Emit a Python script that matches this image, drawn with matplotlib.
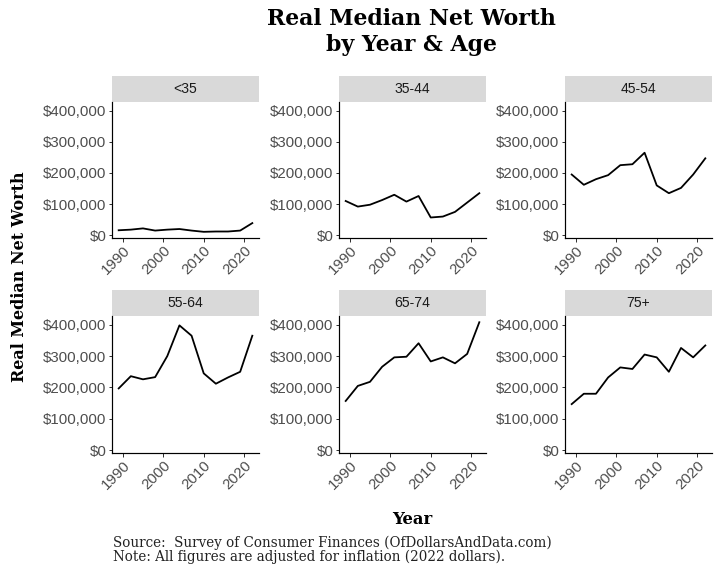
import numpy as np
import matplotlib
matplotlib.use('Agg')
import matplotlib.pyplot as plt
from matplotlib.ticker import FuncFormatter

# SCF survey years
years = [1989, 1992, 1995, 1998, 2001, 2004, 2007, 2010, 2013, 2016, 2019, 2022]

age_groups = ['<35', '35-44', '45-54', '55-64', '65-74', '75+']

# real median net worth, 2022 dollars
nw_under35 = [16000, 18000, 22000, 15000, 18000, 20000, 15000, 11000, 12000, 12000, 15000, 39000]
nw_35_44 = [110000, 92000, 98000, 113000, 130000, 108000, 126000, 57000, 60000, 75000, 105000, 135000]
nw_45_54 = [195000, 162000, 180000, 193000, 225000, 228000, 265000, 160000, 135000, 152000, 195000, 247000]
nw_55_64 = [197000, 236000, 226000, 233000, 300000, 398000, 365000, 245000, 212000, 232000, 250000, 365000]
nw_65_74 = [157000, 205000, 218000, 266000, 296000, 298000, 341000, 283000, 296000, 277000, 307000, 408000]
nw_75plus = [147000, 180000, 180000, 232000, 264000, 259000, 305000, 296000, 250000, 326000, 296000, 334000]

series = [nw_under35, nw_35_44, nw_45_54, nw_55_64, nw_65_74, nw_75plus]

W, H = 720, 576
fig = plt.figure(figsize=(10, 8), dpi=72)

def px_axes(x0, y_top, x1, y_bot):
    return fig.add_axes([x0 / W, 1 - y_bot / H, (x1 - x0) / W, (y_bot - y_top) / H])

col_x = [112, 339, 565]
pan_w = 147
rows = [(76, 102, 238), (290, 316, 453)]

# shared y range with ggplot-like padding
all_vals = np.concatenate([np.array(s) for s in series])
lo, hi = all_vals.min(), all_vals.max()
pad = 0.05 * (hi - lo)
ylim = (lo - pad, hi + pad)
xpad = 0.05 * (years[-1] - years[0])

money = FuncFormatter(lambda v, p: '${:,.0f}'.format(v))
tick_font = 'Liberation Sans'

for i, (grp, vals) in enumerate(zip(age_groups, series)):
    r, c = divmod(i, 3)
    s_top, a_top, a_bot = rows[r]
    x0 = col_x[c]
    # strip
    sax = px_axes(x0, s_top, x0 + pan_w, a_top)
    sax.set_facecolor('#d9d9d9')
    sax.set_xticks([])
    sax.set_yticks([])
    for sp in sax.spines.values():
        sp.set_visible(False)
    sax.text(0.5, 0.5, grp, ha='center', va='center', fontsize=14,
             color='#1a1a1a', family=tick_font, transform=sax.transAxes)

    ax = px_axes(x0, a_top, x0 + pan_w, a_bot)
    ax.plot(years, vals, color='black', lw=1.8)
    ax.set_ylim(*ylim)
    ax.set_xlim(years[0] - xpad, years[-1] + xpad)
    ax.set_yticks([0, 100000, 200000, 300000, 400000])
    ax.set_xticks([1990, 2000, 2010, 2020])
    ax.yaxis.set_major_formatter(money)
    for sp in ['top', 'right']:
        ax.spines[sp].set_visible(False)
    for sp in ['left', 'bottom']:
        ax.spines[sp].set_linewidth(1.2)
    ax.tick_params(length=3.5, width=1, color='#333333', labelsize=15,
                   labelcolor='#4d4d4d', pad=2)
    for lab in ax.get_xticklabels():
        lab.set_rotation(45)
        lab.set_ha('right')
        lab.set_rotation_mode('anchor')
        lab.set_family(tick_font)
    for lab in ax.get_yticklabels():
        lab.set_family(tick_font)

serif = 'DejaVu Serif'
fig.text(411 / W, 1 - 19 / H, 'Real Median Net Worth', ha='center', va='center',
         fontsize=22, fontweight='bold', family=serif)
fig.text(411 / W, 1 - 45 / H, 'by Year & Age', ha='center', va='center',
         fontsize=22, fontweight='bold', family=serif)
fig.text(20 / W, 1 - 277 / H, 'Real Median Net Worth', ha='center', va='center',
         rotation=90, fontsize=16, fontweight='bold', family=serif)
fig.text(412 / W, 1 - 519 / H, 'Year', ha='center', va='center',
         fontsize=16.5, fontweight='bold', family=serif)
fig.text(113 / W, 1 - 543 / H, 'Source:  Survey of Consumer Finances (OfDollarsAndData.com)',
         ha='left', va='center', fontsize=13.5, family=serif, color='#222222')
fig.text(113 / W, 1 - 557 / H, 'Note: All figures are adjusted for inflation (2022 dollars).',
         ha='left', va='center', fontsize=13.5, family=serif, color='#222222')

fig.savefig('out.png', dpi=72)
